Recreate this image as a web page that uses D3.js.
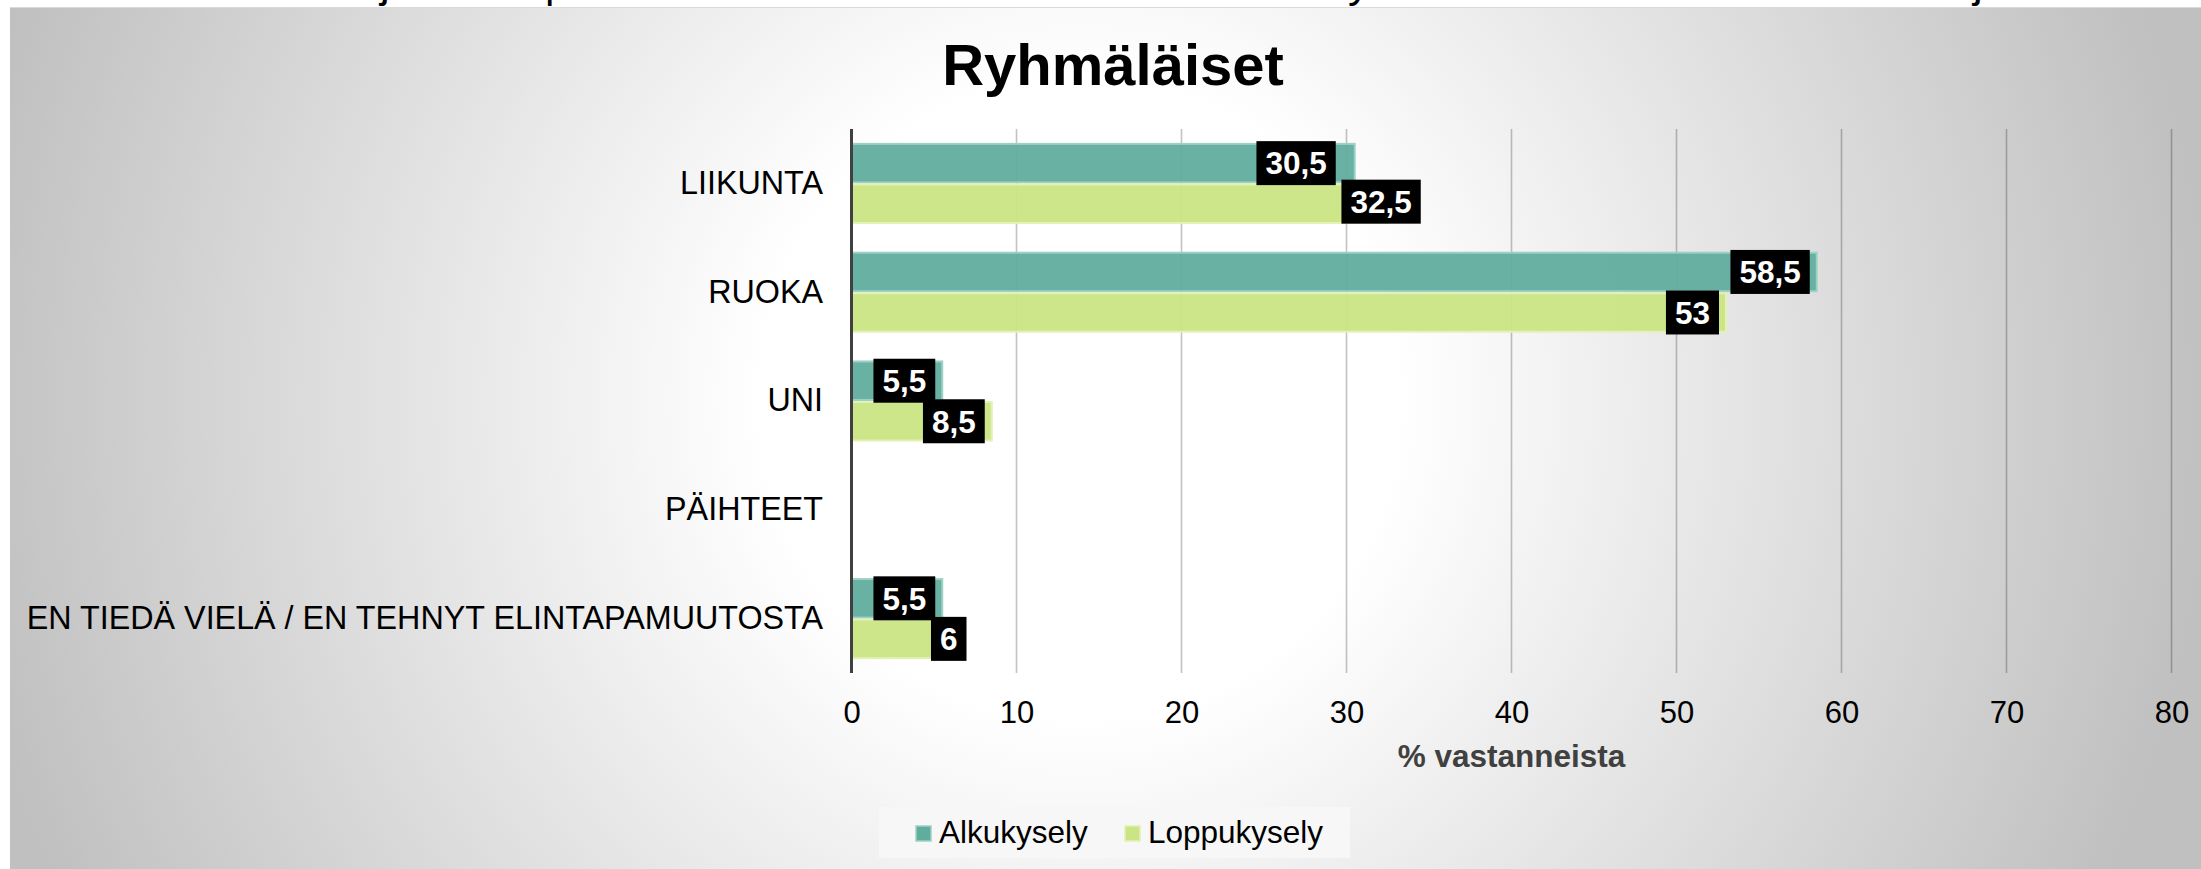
<!DOCTYPE html>
<html>
<head>
<meta charset="utf-8">
<script src="https://cdn.jsdelivr.net/npm/d3@7"></script>
<style>
  body { margin: 0; background: #fff; }
  text { font-family: "Liberation Sans", Arial, sans-serif; }
</style>
</head>
<body>
<div id="chart"></div>
<script>
// Data
const categories = ['LIIKUNTA', 'RUOKA', 'UNI', 'PÄIHTEET', 'EN TIEDÄ VIELÄ / EN TEHNYT ELINTAPAMUUTOSTA'];
const seriesNames = ['Alkukysely', 'Loppukysely'];
const alkuValues = [30.5, 58.5, 5.5, null, 5.5];
const loppuValues = [32.5, 53, 8.5, null, 6];
const xTicks = [0, 10, 20, 30, 40, 50, 60, 70, 80];

// SVG setup
let svgWidth = 2201;
let svgHeight = 869;

let plot = { left: 851.5, right: 2171.5, top: 129, bottom: 673 };

let colors = { Alkukysely: '#60ad9e', Loppukysely: '#cbe584' };
let strokes = { Alkukysely: '#9ed1c6', Loppukysely: '#e2f1b4' };

// labels that were dragged by hand in the original (px)
let labelNudge = { '0-0': [-12, 0], '1-0': [40, -2], '1-4': [23, 0] };

let svg = d3.select('#chart').append('svg')
  .attr('width', svgWidth)
  .attr('height', svgHeight);

// background gradient
let defs = svg.append('defs');
let grad = defs.append('radialGradient')
  .attr('id', 'bg')
  .attr('gradientUnits', 'userSpaceOnUse')
  .attr('cx', 1080).attr('cy', 400).attr('r', 1130);
grad.append('stop').attr('offset', '0%').attr('stop-color', '#ffffff');
grad.append('stop').attr('offset', '28%').attr('stop-color', '#ffffff');
grad.append('stop').attr('offset', '100%').attr('stop-color', '#c0c0c0');

defs.append('clipPath').attr('id', 'topstrip')
  .append('rect').attr('x', 0).attr('y', 0).attr('width', svgWidth).attr('height', 7);

// cut-off slide title above the chart
let frag = svg.append('g').attr('clip-path', 'url(#topstrip)');
[['j', 380], ['|', 544], ['y', 1348], ['j', 1973]].forEach(([c, x]) => {
  frag.append('text').attr('x', x).attr('y', -3)
    .attr('font-size', 44).attr('fill', '#000').text(c);
});

svg.append('rect')
  .attr('x', 10).attr('y', 7)
  .attr('width', svgWidth - 10).attr('height', svgHeight - 7)
  .attr('fill', 'url(#bg)');
svg.append('line')
  .attr('x1', 10).attr('x2', svgWidth).attr('y1', 7.5).attr('y2', 7.5)
  .attr('stroke', '#d9d9d9').attr('stroke-width', 1);

// Title
svg.append('text')
  .attr('x', 1113).attr('y', 85)
  .attr('text-anchor', 'middle')
  .attr('font-size', 58).attr('font-weight', 'bold')
  .attr('fill', '#000')
  .text('Ryhmäläiset');

// scales
let x = d3.scaleLinear().domain([0, 80]).range([plot.left, plot.right]);
let y = d3.scaleBand().domain(categories).range([plot.top, plot.bottom])
  .paddingInner(0.255).paddingOuter(0.1275);
let ySub = d3.scaleBand().domain(seriesNames).range([0, y.bandwidth()]);

// gridlines
svg.append('g').selectAll('line')
  .data(xTicks.slice(1))
  .enter().append('line')
  .attr('x1', d => x(d)).attr('x2', d => x(d))
  .attr('y1', plot.top).attr('y2', plot.bottom)
  .attr('stroke', 'rgba(0,0,0,0.24)')
  .attr('stroke-width', 1.6);

// bars
let rows = [];
categories.forEach((c, i) => {
  [alkuValues[i], loppuValues[i]].forEach((v, s) => {
    if (v != null) rows.push({ cat: c, ci: i, si: s, series: seriesNames[s], value: v });
  });
});

svg.append('g').selectAll('rect')
  .data(rows)
  .enter().append('rect')
  .attr('x', x(0))
  .attr('y', d => y(d.cat) + ySub(d.series) + 1)
  .attr('width', d => x(d.value) - x(0))
  .attr('height', ySub.bandwidth() - 2)
  .attr('fill', d => colors[d.series])
  .attr('fill-opacity', 0.95)
  .attr('stroke', d => strokes[d.series])
  .attr('stroke-width', 2);

// axes
let bottomAxis = d3.axisBottom(x).tickValues(xTicks).tickSize(0).tickPadding(28);
let xAxis = svg.append('g')
  .attr('transform', `translate(0, ${plot.bottom})`)
  .call(bottomAxis);
xAxis.select('.domain').remove();
xAxis.selectAll('text')
  .attr('font-size', 31).attr('fill', '#000')
  .style('font-family', '"Liberation Sans", Arial, sans-serif');

let leftAxis = d3.axisLeft(y).tickSize(0).tickPadding(28.5);
let yAxis = svg.append('g')
  .attr('transform', `translate(${plot.left}, 0)`)
  .call(leftAxis);
yAxis.select('.domain').remove();
yAxis.selectAll('text')
  .attr('font-size', 32.3).attr('fill', '#000')
  .style('font-family', '"Liberation Sans", Arial, sans-serif');

svg.append('line')
  .attr('x1', plot.left).attr('x2', plot.left)
  .attr('y1', plot.top).attr('y2', plot.bottom)
  .attr('stroke', '#404040').attr('stroke-width', 3);

// axis title
svg.append('text')
  .attr('x', (plot.left + plot.right) / 2).attr('y', 767)
  .attr('text-anchor', 'middle')
  .attr('font-size', 31.5).attr('font-weight', 'bold')
  .attr('fill', '#404040')
  .text('% vastanneista');

// data labels
let labels = svg.append('g').selectAll('g')
  .data(rows)
  .enter().append('g');

labels.each(function(d) {
  let g = d3.select(this);
  let nudge = labelNudge[d.si + '-' + d.ci] || [0, 0];
  let t = g.append('text')
    .attr('font-size', 31.5).attr('font-weight', 'bold')
    .attr('fill', '#fff')
    .attr('text-anchor', 'middle')
    .attr('dy', '0.36em')
    .text(String(d.value).replace('.', ','));
  let w = t.node().getComputedTextLength() + 18;
  let h = 44;
  let right = x(d.value) - 7 + nudge[0];
  let cy = y(d.cat) + ySub(d.series) + ySub.bandwidth() / 2 + nudge[1];
  g.insert('rect', 'text')
    .attr('x', right - w).attr('y', cy - h / 2)
    .attr('width', w).attr('height', h)
    .attr('fill', '#000');
  t.attr('x', right - w / 2).attr('y', cy);
});

// legend
let legend = svg.append('g');
legend.append('rect')
  .attr('x', 879).attr('y', 807).attr('width', 471).attr('height', 51)
  .attr('fill', '#f7f7f7');
let legendX = [916, 1125];
seriesNames.forEach((s, i) => {
  legend.append('rect')
    .attr('x', legendX[i]).attr('y', 826).attr('width', 15).attr('height', 15)
    .attr('fill', colors[s]).attr('stroke', strokes[s]).attr('stroke-width', 1.5);
  legend.append('text')
    .attr('x', legendX[i] + 23).attr('y', 843)
    .attr('font-size', 31.5).attr('fill', '#000')
    .text(s);
});
</script>
</body>
</html>
